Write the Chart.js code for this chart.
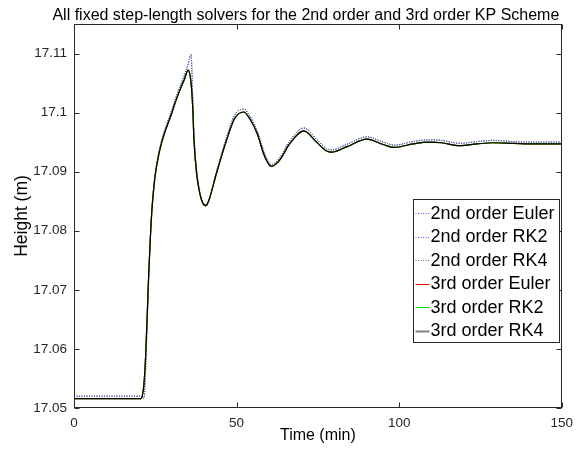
<!DOCTYPE html>
<html>
<head>
<meta charset="utf-8">
<script src="https://cdn.jsdelivr.net/npm/chart.js@4.4.1/dist/chart.umd.min.js"></script>
<style>
  body { margin: 0; background: #fff; }
  canvas { display: block; }
</style>
</head>
<body>
<canvas id="chart" width="580" height="455"></canvas>
<script>
// === Data ===
const timeMin = [0, 10, 20, 20.6, 21, 21.5, 22, 22.5, 23, 23.5, 24, 24.5, 25, 26, 27, 28, 29, 30,
  31, 32, 33, 34, 35.1, 36, 36.5, 36.9, 37.7, 38.7, 39.7, 40.6, 41.5, 43.8, 46.9, 49.4, 52.2,
  54, 56.3, 58.7, 60.7, 63.3, 66.4, 70.7, 74.6, 77.7, 79.2, 83.8, 90.1, 95.1, 98.6, 104.3,
  109.4, 113, 118.6, 124, 128.8, 135, 142, 150];

const height2nd = [17.0520, 17.0520, 17.0520, 17.0520, 17.0518, 17.0516, 17.0560, 17.0640,
  17.0722, 17.0790, 17.0840, 17.0874, 17.0898, 17.0931, 17.0954, 17.0972, 17.0988, 17.1003,
  17.1020, 17.1036, 17.1050, 17.1064, 17.1082, 17.1099, 17.1030, 17.0965, 17.0905, 17.0866,
  17.0845, 17.0841, 17.0851, 17.0900, 17.0958, 17.0996, 17.1006, 17.0995, 17.0970, 17.0930,
  17.0912, 17.0924, 17.0953, 17.0974, 17.0955, 17.0939, 17.0937, 17.0946, 17.0959, 17.0950,
  17.0945, 17.0951, 17.0954, 17.0953, 17.0948, 17.0951, 17.0953, 17.0951, 17.0950, 17.0950];

const height3rd = [17.0516, 17.0516, 17.0516, 17.0516, 17.0520, 17.0540, 17.0585, 17.0655,
  17.0730, 17.0790, 17.0838, 17.0870, 17.0895, 17.0927, 17.0950, 17.0968, 17.0983, 17.0998,
  17.1015, 17.1030, 17.1044, 17.1057, 17.1072, 17.1050, 17.1010, 17.0953, 17.0897, 17.0863,
  17.0846, 17.0843, 17.0852, 17.0897, 17.0953, 17.0990, 17.1001, 17.0990, 17.0965, 17.0925,
  17.0909, 17.0920, 17.0948, 17.0969, 17.0950, 17.0935, 17.0933, 17.0942, 17.0955, 17.0946,
  17.0941, 17.0947, 17.0950, 17.0949, 17.0944, 17.0947, 17.0949, 17.0948, 17.0947, 17.0947];

const seriesNames = ["2nd order Euler", "2nd order RK2", "2nd order RK4",
  "3rd order Euler", "3rd order RK2", "3rd order RK4"];
const xTicks = [0, 50, 100, 150];
const yTicks = [17.05, 17.06, 17.07, 17.08, 17.09, 17.1, 17.11];

const axisColor = "#262626";
const FONT = "'Liberation Sans', Arial, Helvetica, sans-serif";

// === Series styles ===
const styles = [
  { color: "#5a5aff", dash: [1, 1.5] },
  { color: "#5a5aff", dash: [1, 1.5] },
  { color: "#666666", dash: [1, 1.5] },
  { color: "#ff0000", dash: [] },
  { color: "#00e000", dash: [] },
  { color: "#000000", dash: [] },
];

function points(values) {
  return timeMin.map((t, i) => ({ x: t, y: values[i] }));
}

const datasets = seriesNames.map((name, i) => ({
  label: name,
  data: points(i < 3 ? height2nd : height3rd),
  borderColor: styles[i].color,
  borderDash: styles[i].dash,
  borderWidth: i < 3 ? 1 : 1.2,
  pointRadius: 0,
  fill: false,
  cubicInterpolationMode: "monotone",
  order: seriesNames.length - i,
}));

// === Box, inward ticks, title and legend ===
const matlabLook = {
  id: "matlabLook",
  afterDraw(chart) {
    const { ctx, chartArea: a, scales } = chart;
    ctx.save();
    ctx.strokeStyle = axisColor;
    ctx.lineWidth = 1;
    const L = Math.round(a.left) + 0.5, R = Math.round(a.right) - 0.5;
    const T = Math.round(a.top) + 0.5, B = Math.round(a.bottom) - 0.5;
    ctx.strokeRect(L, T, R - L, B - T);
    ctx.beginPath();
    xTicks.forEach((v) => {
      const px = Math.round(scales.x.getPixelForValue(v)) + 0.5;
      ctx.moveTo(px, B); ctx.lineTo(px, B - 5);
      ctx.moveTo(px, T); ctx.lineTo(px, T + 5);
    });
    yTicks.forEach((v) => {
      const py = Math.round(scales.y.getPixelForValue(v)) + 0.5;
      ctx.moveTo(L, py); ctx.lineTo(L + 5, py);
      ctx.moveTo(R, py); ctx.lineTo(R - 5, py);
    });
    ctx.stroke();

    // title
    ctx.fillStyle = "#000";
    ctx.font = "16px " + FONT;
    ctx.textAlign = "center";
    ctx.textBaseline = "alphabetic";
    ctx.fillText("All fixed step-length solvers for the 2nd order and 3rd order KP Scheme",
      (a.left + a.right) / 2 - 12, 19.5);

    // legend
    const bx = Math.round(a.right) - 148.5, by = Math.round(a.top) + 175.5;
    const bw = 146, bh = 143, row = 23.5;
    ctx.fillStyle = "#fff";
    ctx.fillRect(bx, by, bw, bh);
    ctx.strokeStyle = axisColor;
    ctx.strokeRect(bx, by, bw, bh);
    ctx.font = "18px " + FONT;
    ctx.textAlign = "left";
    ctx.textBaseline = "middle";
    seriesNames.forEach((name, i) => {
      const cy = by + 13.5 + i * row;
      ctx.beginPath();
      ctx.strokeStyle = i === 5 ? "#808080" : styles[i].color;
      ctx.setLineDash(styles[i].dash);
      ctx.lineWidth = i === 5 ? 2 : 1;
      ctx.moveTo(bx + 2, Math.round(cy) + 0.5);
      ctx.lineTo(bx + 16, Math.round(cy) + 0.5);
      ctx.stroke();
      ctx.setLineDash([]);
      ctx.fillStyle = "#000";
      ctx.fillText(name, bx + 17, cy + 1);
    });
    ctx.restore();
  },
};

const ctx = document.getElementById("chart").getContext("2d");
new Chart(ctx, {
  type: "line",
  data: { datasets },
  options: {
    responsive: false,
    animation: false,
    layout: { padding: { top: 24, right: 18, bottom: 0, left: 0 } },
    plugins: { legend: { display: false }, tooltip: { enabled: false } },
    scales: {
      x: {
        type: "linear",
        min: 0,
        max: 150,
        afterFit: (s) => { s.height = 47; },
        afterBuildTicks: (s) => { s.ticks = xTicks.map((v) => ({ value: v })); },
        grid: { display: false, drawTicks: false },
        border: { display: false },
        ticks: { color: axisColor, padding: 7, font: { family: FONT, size: 13.5 }, maxRotation: 0,
          callback: (v) => String(v) },
        title: { display: true, text: "Time (min)", color: "#000",
          font: { family: FONT, size: 16 }, padding: { top: 0, bottom: 9.7 } },
      },
      y: {
        type: "linear",
        min: 17.05,
        max: 17.115,
        afterFit: (s) => { s.width = 74; },
        afterBuildTicks: (s) => { s.ticks = yTicks.map((v) => ({ value: v })); },
        grid: { display: false, drawTicks: false },
        border: { display: false },
        ticks: { color: axisColor, padding: 7, font: { family: FONT, size: 13.5 },
          callback: (v) => String(v) },
        title: { display: true, text: "Height (m)", color: "#000",
          font: { family: FONT, size: 17.5 }, padding: { top: 12, bottom: 0 } },
      },
    },
  },
  plugins: [matlabLook],
});
</script>
</body>
</html>
